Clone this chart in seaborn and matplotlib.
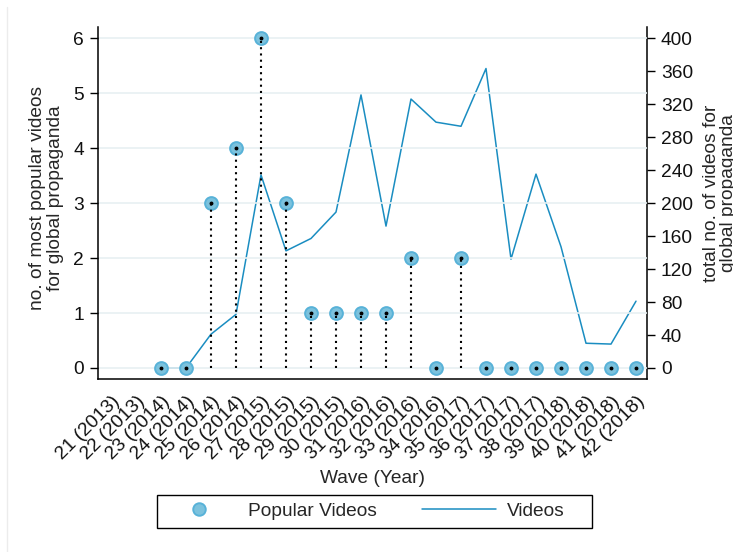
import matplotlib
matplotlib.use("Agg")
import matplotlib.pyplot as plt
from matplotlib.lines import Line2D
from matplotlib.patches import Rectangle
import numpy as np
import pandas as pd
import seaborn as sns

# Survey waves and their years
waves = list(range(21, 43))
years = [2013, 2013, 2014, 2014, 2014, 2014, 2015, 2015, 2015, 2015, 2016,
         2016, 2016, 2016, 2017, 2017, 2017, 2017, 2018, 2018, 2018, 2018]
tick_labels = [f"{w} ({y})" for w, y in zip(waves, years)]

# Waves with data (21 and 22 have none)
data_waves = list(range(23, 43))
popular_videos = [0, 0, 3, 4, 6, 3, 1, 1, 1, 1, 2, 0, 2, 0, 0, 0, 0, 0, 0, 0]
total_videos = [0, 0, 41, 65, 234, 142, 157, 189, 331, 172, 326, 298, 293,
                363, 132, 235, 147, 30, 29, 81]

df = pd.DataFrame({"wave": data_waves,
                   "popular": popular_videos,
                   "videos": total_videos})

sns.set_theme(style="white")
plt.rcParams["font.family"] = ["Liberation Sans", "DejaVu Sans"]
plt.rcParams["axes.edgecolor"] = "black"

line_color = "#1a8dc1"
marker_fill = "#7cc2dd"
marker_edge = "#58b2d8"
grid_color = "#e7f0f2"
fs = 13.8

W, H = 733, 552
fig = plt.figure(figsize=(W / 100, H / 100), dpi=100)
ax = fig.add_axes([98 / W, 1 - 379 / H, 549 / W, 352 / H])
ax2 = ax.twinx()

# Left axis: popular videos with drop lines
ax.set_xlim(20.48, 42.44)
ax.set_ylim(-0.2, 6.2)
ax.set_yticks(range(0, 7))
for t in range(0, 7):
    ax.axhline(t, color=grid_color, lw=1.2, zorder=0)

sns.scatterplot(data=df, x="wave", y="popular", ax=ax, s=85,
                color=marker_fill, edgecolor=marker_edge, linewidth=1.4,
                zorder=3, legend=False)
ax.vlines(df["wave"], 0, df["popular"], colors="black",
          linestyles=(0, (1, 2.0)), lw=1.5, zorder=4)
ax.plot(df["wave"], df["popular"], ls="none", marker="o", ms=1.8,
        color="black", zorder=5)

# Right axis: total videos
ax2.set_ylim(-0.2 * 400 / 6, 6.2 * 400 / 6)
ax2.set_yticks(range(0, 401, 40))
sns.lineplot(data=df, x="wave", y="videos", ax=ax2, color=line_color,
             lw=1.1, zorder=2, legend=False)

# Left axes drawn above the twin so the markers sit on top
ax.set_zorder(ax2.get_zorder() + 1)
ax.patch.set_visible(False)

ax.set_xticks(waves)
ax.set_xticklabels(tick_labels, rotation=45, ha="right",
                   rotation_mode="anchor")
for a in (ax, ax2):
    a.tick_params(axis="both", which="major", direction="out", length=6,
                  width=1, color="black", labelsize=fs, pad=4,
                  labelcolor="#111111")
    a.spines["top"].set_visible(False)
    for side in ("left", "right", "bottom"):
        a.spines[side].set_linewidth(1.1)
ax.spines["right"].set_visible(False)
ax2.spines["left"].set_visible(False)
ax2.spines["bottom"].set_visible(False)
ax.tick_params(axis="x", length=7, pad=3)

ax.set_xlabel("Wave (Year)", fontsize=fs, labelpad=5)
ax.set_ylabel("no. of most popular videos\nfor global propaganda",
              fontsize=fs, va="center", linespacing=1.05)
ax.yaxis.set_label_coords(-0.094, 0.514)
ax2.set_xlabel("")
ax2.set_ylabel("total no. of videos for\nglobal propaganda",
               fontsize=fs, va="center", linespacing=1.05, rotation=90)
ax2.yaxis.set_label_coords(1.133, 0.528)

# Legend: entries without frame, boxed by a separate rectangle
handles = [
    Line2D([], [], ls="none", marker="o", ms=9, markerfacecolor=marker_fill,
           markeredgecolor=marker_edge, markeredgewidth=1.4),
    Line2D([], [], color=line_color, lw=1.1),
]
fig.legend(handles, ["Popular Videos", "Videos"], ncol=2,
           loc="center left", bbox_to_anchor=(162 / W, 1 - 511.5 / H),
           fontsize=fs, frameon=False,
           handlelength=3.9, handletextpad=0.57, columnspacing=2.35,
           borderpad=0, borderaxespad=0)
fig.add_artist(Rectangle((157 / W, 1 - 528 / H), 435 / W, 33 / H,
                         transform=fig.transFigure, facecolor="none",
                         edgecolor="black", lw=1.0))

# Faint outer frame line
fig.add_artist(Line2D([7 / W, 7 / W], [0, 1 - 7 / H],
                      color="#ececec", lw=1))

fig.savefig("out.png", dpi=100)
